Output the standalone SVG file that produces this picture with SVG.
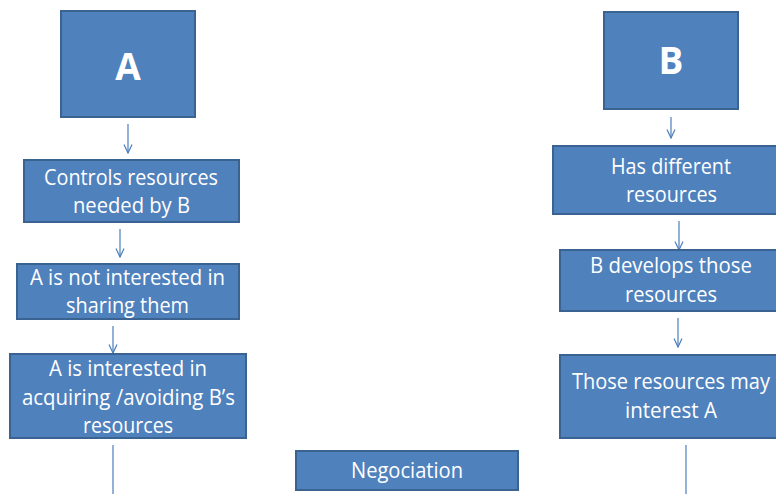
<svg xmlns="http://www.w3.org/2000/svg" width="776" height="494" viewBox="0 0 776 494">
<style>
.box{fill:#4F81BD;stroke:#3A6391;stroke-width:2}
.t{font-family:"Open Sans","Liberation Sans",sans-serif;font-size:21px;fill:#FFFFFF;text-anchor:middle}
.big{font-family:"Open Sans","Liberation Sans",sans-serif;font-size:37px;font-weight:bold;fill:#FFFFFF;text-anchor:middle}
.c{stroke:#4A7EBB;stroke-width:1.2;fill:none}
</style>
<defs>
<marker id="v" viewBox="0 0 10 10" refX="9.5" refY="5" markerWidth="10" markerHeight="10" markerUnits="userSpaceOnUse" orient="auto">
<path d="M1 1 L9.5 5 L1 9" fill="none" stroke="#4A7EBB" stroke-width="1.2"/>
</marker>
</defs>
<g id="connectors">
<path class="c" d="M128 124 V153" marker-end="url(#v)"/>
<path class="c" d="M120 229 V257" marker-end="url(#v)"/>
<path class="c" d="M113 326 V353" marker-end="url(#v)"/>
<path class="c" d="M671 117 V138" marker-end="url(#v)"/>
<path class="c" d="M679 221 V250" marker-end="url(#v)"/>
<path class="c" d="M678 318 V347" marker-end="url(#v)"/>
<path class="c" d="M113 445 V494"/>
<path class="c" d="M686 445 V494"/>
</g>
<g id="nodeA">
<rect class="box" x="61" y="11" width="134" height="106"/>
<text class="big" x="128" y="80">A</text>
</g>
<g id="nodeB">
<rect class="box" x="604" y="12" width="134" height="97"/>
<text class="big" x="671" y="74">B</text>
</g>
<g id="controls">
<rect class="box" x="24" y="160" width="215" height="62"/>
<text class="t" x="131" y="185" textLength="174" lengthAdjust="spacingAndGlyphs">Controls resources</text>
<text class="t" x="131.5" y="213" textLength="117" lengthAdjust="spacingAndGlyphs">needed by B</text>
</g>
<g id="notInterested">
<rect class="box" x="17" y="264" width="222" height="55"/>
<text class="t" x="127.5" y="285" textLength="195" lengthAdjust="spacingAndGlyphs">A is not interested in</text>
<text class="t" x="127.5" y="313" textLength="123" lengthAdjust="spacingAndGlyphs">sharing them</text>
</g>
<g id="interested">
<rect class="box" x="10" y="354" width="236" height="84"/>
<text class="t" x="128" y="376" textLength="158" lengthAdjust="spacingAndGlyphs">A is interested in</text>
<text class="t" x="128.5" y="405" textLength="213" lengthAdjust="spacingAndGlyphs">acquiring /avoiding B’s</text>
<text class="t" x="128" y="433" textLength="90" lengthAdjust="spacingAndGlyphs">resources</text>
</g>
<g id="hasDifferent">
<rect class="box" x="553" y="146" width="236" height="68"/>
<text class="t" x="671" y="174" textLength="120" lengthAdjust="spacingAndGlyphs">Has different</text>
<text class="t" x="671.5" y="202" textLength="91" lengthAdjust="spacingAndGlyphs">resources</text>
</g>
<g id="develops">
<rect class="box" x="560" y="250" width="222" height="61"/>
<text class="t" x="671" y="273" textLength="162" lengthAdjust="spacingAndGlyphs">B develops those</text>
<text class="t" x="671" y="302" textLength="92" lengthAdjust="spacingAndGlyphs">resources</text>
</g>
<g id="mayInterest">
<rect class="box" x="560" y="355" width="224" height="83"/>
<text class="t" x="671" y="389" textLength="198" lengthAdjust="spacingAndGlyphs">Those resources may</text>
<text class="t" x="671" y="418" textLength="92" lengthAdjust="spacingAndGlyphs">interest A</text>
</g>
<g id="negociation">
<rect class="box" x="296" y="451" width="222" height="39"/>
<text class="t" x="407" y="478" textLength="112" lengthAdjust="spacingAndGlyphs">Negociation</text>
</g>
</svg>
